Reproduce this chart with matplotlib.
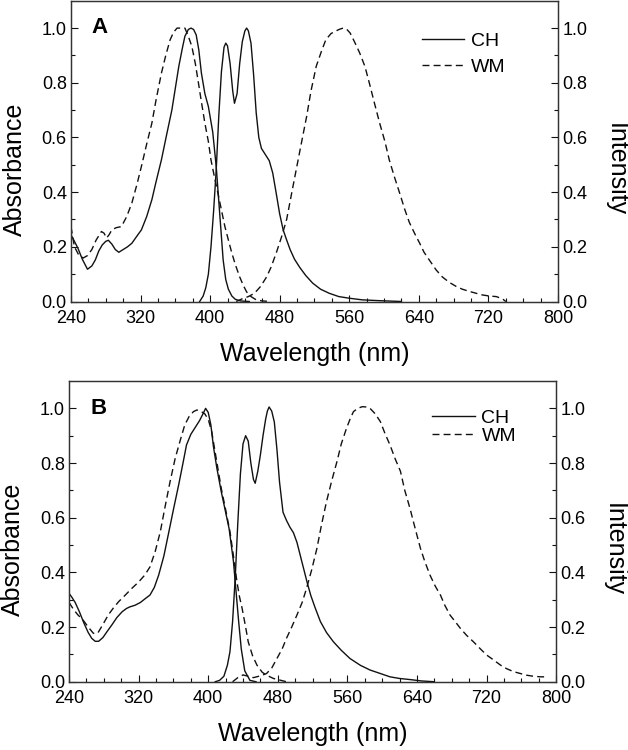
#!/usr/bin/env python3
"""
Normalised absorbance (left axis) and emission (right axis) spectra of CH and WM,
two panels (A, B). Output: out.png
"""

import matplotlib
matplotlib.use("Agg")
import matplotlib.pyplot as plt
from matplotlib.lines import Line2D
from matplotlib.ticker import FixedLocator, FormatStrFormatter, MultipleLocator

# ---------------- panel A ----------------
a_ch_abs_x = [240, 244, 248, 253, 259, 264, 268, 272, 276, 280, 283, 287, 291, 295, 300,
              305, 310, 316, 321, 327, 333, 338, 344, 350, 356, 360, 364, 368, 371, 375,
              378, 381, 384, 387, 390, 394, 398, 403, 407, 411, 415, 418, 421, 425, 429,
              435, 445]
a_ch_abs_y = [0.244, 0.22, 0.195, 0.155, 0.118, 0.13, 0.152, 0.185, 0.207, 0.22, 0.224,
              0.21, 0.19, 0.18, 0.19, 0.2, 0.213, 0.24, 0.262, 0.31, 0.372, 0.44, 0.518,
              0.61, 0.7, 0.78, 0.86, 0.925, 0.97, 0.995, 1.0, 0.995, 0.975, 0.92, 0.835,
              0.76, 0.713, 0.62, 0.494, 0.323, 0.152, 0.08, 0.045, 0.02, 0.008, 0.002, 0.0]

a_wm_abs_x = [240, 244, 249, 254, 259, 264, 269, 275, 278, 281, 284, 287, 292, 298, 304,
              310, 316, 321, 327, 333, 338, 344, 349, 354, 358, 362, 366, 371, 375, 379,
              383, 386, 390, 394, 398, 401, 405, 409, 413, 417, 421, 425, 429, 434, 438,
              442, 447, 453, 460, 470]
a_wm_abs_y = [0.274, 0.2, 0.17, 0.159, 0.168, 0.19, 0.225, 0.256, 0.25, 0.232, 0.245,
              0.262, 0.27, 0.274, 0.31, 0.36, 0.43, 0.494, 0.575, 0.652, 0.74, 0.835, 0.9,
              0.957, 0.985, 1.0, 1.0, 1.0, 0.97, 0.933, 0.87, 0.811, 0.73, 0.652, 0.585,
              0.518, 0.455, 0.396, 0.335, 0.274, 0.225, 0.177, 0.135, 0.09, 0.06, 0.035,
              0.018, 0.006, 0.002, 0.0]

a_ch_em_x = [388, 392, 395, 398, 401, 404, 407, 410, 413, 416, 418, 420, 423, 426, 428,
             431, 434, 437, 440, 442, 444, 447, 450, 453, 456, 459, 463, 468, 472, 476,
             480, 484, 488, 492, 497, 503, 510, 518, 527, 537, 548, 560, 575, 595, 620]
a_ch_em_y = [0.0, 0.02, 0.05, 0.1, 0.2, 0.33, 0.48, 0.68, 0.84, 0.93, 0.945, 0.935, 0.87,
             0.77, 0.725, 0.76, 0.87, 0.95, 0.99, 1.0, 0.99, 0.945, 0.83, 0.69, 0.6, 0.56,
             0.54, 0.515, 0.47, 0.396, 0.32, 0.262, 0.225, 0.19, 0.155, 0.125, 0.095,
             0.067, 0.045, 0.03, 0.018, 0.012, 0.006, 0.003, 0.0]

a_wm_em_x = [430, 437, 444, 451, 458, 465, 470, 476, 482, 488, 494, 499, 505, 511, 516,
             522, 528, 533, 539, 545, 549, 553, 557, 561, 566, 572, 578, 583, 589, 595,
             601, 606, 612, 618, 624, 629, 635, 641, 646, 652, 660, 667, 675, 683, 690,
             698, 706, 713, 721, 729, 736, 740]
a_wm_em_y = [0.0, 0.01, 0.018, 0.03, 0.055, 0.09, 0.125, 0.177, 0.235, 0.3, 0.4, 0.482,
             0.58, 0.677, 0.77, 0.86, 0.915, 0.957, 0.98, 0.99, 0.996, 1.0, 0.996, 0.982,
             0.95, 0.909, 0.86, 0.8, 0.725, 0.652, 0.585, 0.518, 0.455, 0.396, 0.335, 0.29,
             0.25, 0.213, 0.18, 0.152, 0.115, 0.09, 0.07, 0.055, 0.045, 0.037, 0.03, 0.024,
             0.02, 0.018, 0.01, 0.0]

# ---------------- panel B ----------------
b_ch_abs_x = [240, 243, 247, 252, 257, 262, 266, 270, 274, 279, 284, 289, 295, 301, 306,
              310, 316, 322, 328, 333, 338, 343, 349, 354, 360, 366, 371, 375, 380, 385,
              390, 394, 397, 400, 403, 406, 410, 415, 420, 424, 429, 432, 435, 438, 442,
              448, 455]
b_ch_abs_y = [0.323, 0.31, 0.29, 0.255, 0.215, 0.18, 0.159, 0.148, 0.148, 0.162, 0.185,
              0.207, 0.235, 0.256, 0.268, 0.274, 0.28, 0.29, 0.305, 0.317, 0.345, 0.39,
              0.46, 0.537, 0.63, 0.72, 0.8, 0.866, 0.905, 0.93, 0.955, 0.98, 1.0, 0.985,
              0.94, 0.86, 0.78, 0.695, 0.62, 0.56, 0.44, 0.33, 0.22, 0.12, 0.04, 0.005, 0.0]

b_wm_abs_x = [240, 245, 250, 256, 262, 268, 273, 279, 285, 291, 297, 304, 312, 320, 327,
              333, 339, 345, 350, 356, 362, 368, 373, 378, 383, 387, 391, 396, 400, 404,
              409, 415, 420, 425, 429, 433, 436, 439, 443, 446, 451, 456, 462, 467, 475, 490]
b_wm_abs_y = [0.29, 0.265, 0.245, 0.226, 0.2, 0.177, 0.178, 0.21, 0.244, 0.27, 0.293,
              0.315, 0.341, 0.365, 0.39, 0.42, 0.476, 0.55, 0.634, 0.73, 0.817, 0.885,
              0.939, 0.97, 0.988, 0.994, 0.99, 0.98, 0.96, 0.915, 0.82, 0.707, 0.63, 0.549,
              0.46, 0.366, 0.31, 0.268, 0.2, 0.146, 0.095, 0.061, 0.035, 0.024, 0.012, 0.0]

b_ch_em_x = [408, 413, 418, 422, 425, 428, 431, 434, 437, 440, 443, 446, 449, 452, 454,
             457, 460, 463, 466, 468, 470, 473, 476, 479, 482, 486, 490, 494, 498, 502,
             506, 510, 514, 518, 523, 529, 536, 544, 553, 563, 575, 586, 598, 609, 620,
             632, 645, 660]
b_ch_em_y = [0.0, 0.005, 0.02, 0.06, 0.11, 0.22, 0.378, 0.58, 0.76, 0.87, 0.9, 0.88, 0.8,
             0.74, 0.726, 0.77, 0.83, 0.9, 0.96, 0.99, 1.005, 0.99, 0.95, 0.85, 0.73, 0.62,
             0.59, 0.565, 0.545, 0.51, 0.46, 0.41, 0.36, 0.315, 0.27, 0.22, 0.18, 0.146,
             0.115, 0.085, 0.06, 0.043, 0.03, 0.018, 0.012, 0.008, 0.003, 0.0]

b_wm_em_x = [428, 434, 440, 446, 452, 458, 463, 467, 473, 479, 485, 490, 496, 502, 508,
             513, 519, 525, 530, 536, 542, 548, 553, 559, 563, 567, 572, 577, 582, 586,
             592, 598, 603, 609, 615, 621, 626, 632, 638, 644, 649, 655, 661, 667, 672,
             678, 684, 690, 697, 705, 713, 720, 728, 736, 743, 751, 759, 766, 774, 782, 790]
b_wm_em_y = [0.0, 0.015, 0.025, 0.02, 0.015, 0.02, 0.025, 0.03, 0.05, 0.085, 0.12, 0.159,
             0.2, 0.244, 0.29, 0.341, 0.41, 0.488, 0.57, 0.659, 0.735, 0.805, 0.87, 0.927,
             0.96, 0.988, 1.0, 1.006, 1.005, 1.0, 0.98, 0.951, 0.91, 0.866, 0.815, 0.77,
             0.7, 0.634, 0.56, 0.488, 0.44, 0.39, 0.35, 0.317, 0.28, 0.244, 0.22, 0.195,
             0.17, 0.146, 0.12, 0.098, 0.08, 0.061, 0.048, 0.037, 0.03, 0.024, 0.02,
             0.018, 0.018]

x_ticks = [240, 320, 400, 480, 560, 640, 720, 800]
y_ticks = [0.0, 0.2, 0.4, 0.6, 0.8, 1.0]

PANELS = [
    dict(letter="A", rect=[0.113, 0.598, 0.7755, 0.401],
         abs_ch=(a_ch_abs_x, a_ch_abs_y), abs_wm=(a_wm_abs_x, a_wm_abs_y),
         em_ch=(a_ch_em_x, a_ch_em_y), em_wm=(a_wm_em_x, a_wm_em_y),
         leg_anchor=(0.72, 0.895), leg_spacing=0.45),
    dict(letter="B", rect=[0.110, 0.091, 0.7755, 0.401],
         abs_ch=(b_ch_abs_x, b_ch_abs_y), abs_wm=(b_wm_abs_x, b_wm_abs_y),
         em_ch=(b_ch_em_x, b_ch_em_y), em_wm=(b_wm_em_x, b_wm_em_y),
         leg_anchor=(0.745, 0.905), leg_spacing=0.0),
]

DASH = (0, (5, 3))
LW = 1.0
INK = "#111111"


def style_y(ax, side):
    ax.set_ylim(0, 1.1)
    ax.yaxis.set_major_locator(FixedLocator(y_ticks))
    ax.yaxis.set_minor_locator(FixedLocator([0.1, 0.3, 0.5, 0.7, 0.9]))
    ax.yaxis.set_major_formatter(FormatStrFormatter("%.1f"))
    ax.tick_params(axis="y", which="both", direction="in", labelsize=13, pad=3,
                   left=(side == "left"), right=(side == "right"),
                   labelleft=(side == "left"), labelright=(side == "right"),
                   color=INK)
    ax.tick_params(axis="y", which="major", length=5, width=0.8)
    ax.tick_params(axis="y", which="minor", length=3, width=0.8)


def main():
    plt.rcParams.update({
        "font.family": ["Liberation Sans", "DejaVu Sans"],
        "axes.linewidth": 0.9,
        "axes.edgecolor": "#333333",
    })

    fig = plt.figure(figsize=(6.28, 7.5), dpi=100)

    for p in PANELS:
        ax = fig.add_axes(p["rect"])
        ax2 = ax.twinx()

        ax.plot(*p["abs_ch"], color=INK, lw=LW)
        ax.plot(*p["abs_wm"], color=INK, lw=LW, linestyle=DASH)
        ax2.plot(*p["em_ch"], color=INK, lw=LW)
        ax2.plot(*p["em_wm"], color=INK, lw=LW, linestyle=DASH)

        ax.set_xlim(240, 800)
        ax.xaxis.set_major_locator(FixedLocator(x_ticks))
        ax.xaxis.set_minor_locator(MultipleLocator(20))
        ax.tick_params(axis="x", which="both", direction="in", labelsize=13, pad=6,
                       color=INK)
        ax.tick_params(axis="x", which="major", length=5, width=0.8)
        ax.tick_params(axis="x", which="minor", length=3, width=0.8)

        style_y(ax, "left")
        style_y(ax2, "right")

        ax.set_xlabel("Wavelength (nm)", fontsize=18, va="center")
        ax.xaxis.set_label_coords(0.5, -0.173)
        ax.set_ylabel("Absorbance", fontsize=18, rotation=90,
                      ha="center", va="center", rotation_mode="anchor")
        ax.yaxis.set_label_coords(-0.115, 0.44)
        ax2.set_ylabel("Intensity", fontsize=18, rotation=270,
                       ha="center", va="center", rotation_mode="anchor")
        ax2.yaxis.set_label_coords(1.119, 0.44)

        ax.text(0.043, 0.945, p["letter"], transform=ax.transAxes,
                fontsize=16, fontweight="bold", ha="left", va="top")

        handles = [
            Line2D([0], [0], color=INK, lw=LW, label="CH"),
            Line2D([0], [0], color=INK, lw=LW, linestyle=DASH, label="WM"),
        ]
        ax2.legend(handles=handles, loc="upper left", bbox_to_anchor=p["leg_anchor"],
                   frameon=False, fontsize=14, handlelength=2.2, handletextpad=0.35,
                   borderpad=0, borderaxespad=0, labelspacing=p["leg_spacing"])

    fig.savefig("out.png", dpi=100)
    plt.close(fig)


if __name__ == "__main__":
    main()
